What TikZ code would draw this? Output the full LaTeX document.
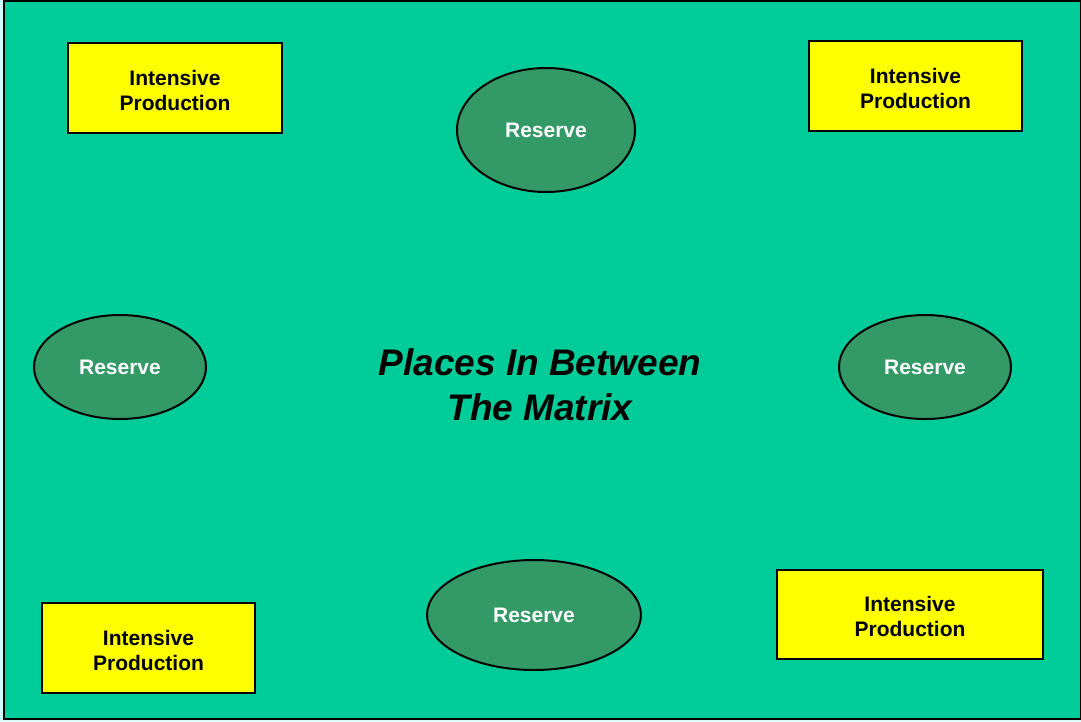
\documentclass[tikz,border=0pt]{standalone}
\usepackage{fontspec}
\setmainfont{Liberation Sans}
\usetikzlibrary{shapes.geometric}
\definecolor{bggreen}{HTML}{00CC99}
\definecolor{resgreen}{HTML}{339966}
\definecolor{prodyellow}{HTML}{FFFF00}
\definecolor{edgecyan}{HTML}{CCFFFF}
\begin{document}
\begin{tikzpicture}[x=1pt,y=-1pt,
  prodbox/.style={draw=black,line width=2pt,fill=prodyellow,inner sep=0pt},
  prodtext/.style={font=\fontsize{21}{25}\selectfont\bfseries,align=center,text=black},
  reserve/.style={ellipse,draw=black,line width=2pt,fill=resgreen,inner sep=0pt,
    font=\fontsize{21}{24}\selectfont\bfseries,text=white}]
\useasboundingbox (0,0) rectangle (1081,721);
\fill[edgecyan] (0,0) rectangle (1081,721);
\draw[fill=bggreen,line width=2pt] (4,1) rectangle (1081,719);
% boxes
\node[prodbox,minimum width=214pt,minimum height=90pt] (p1) at (175,88) {};
\node[prodtext] (l1) at (175,90) {Intensive\\Production};
\node[prodbox,minimum width=213pt,minimum height=90pt] (p2) at (915.5,86) {};
\node[prodtext] (l2) at (915.5,88) {Intensive\\Production};
\node[prodbox,minimum width=213pt,minimum height=90pt] (p3) at (148.5,648) {};
\node[prodtext] (l3) at (148.5,650) {Intensive\\Production};
\node[prodbox,minimum width=266pt,minimum height=89pt] (p4) at (910,614.5) {};
\node[prodtext] (l4) at (910,616.5) {Intensive\\Production};
% ellipses
\node[reserve,minimum width=178pt,minimum height=124pt] (r1) at (546,130) {Reserve};
\node[reserve,minimum width=172pt,minimum height=104pt] (r2) at (120,367) {Reserve};
\node[reserve,minimum width=172pt,minimum height=104pt] (r3) at (925,367) {Reserve};
\node[reserve,minimum width=214pt,minimum height=110pt] (r4) at (534,615) {Reserve};
% title
\node[font=\fontsize{37}{45}\selectfont\bfseries\itshape,align=center,text=black] (t) at (540,385) {Places In Between\\The Matrix};
\end{tikzpicture}
\end{document}
